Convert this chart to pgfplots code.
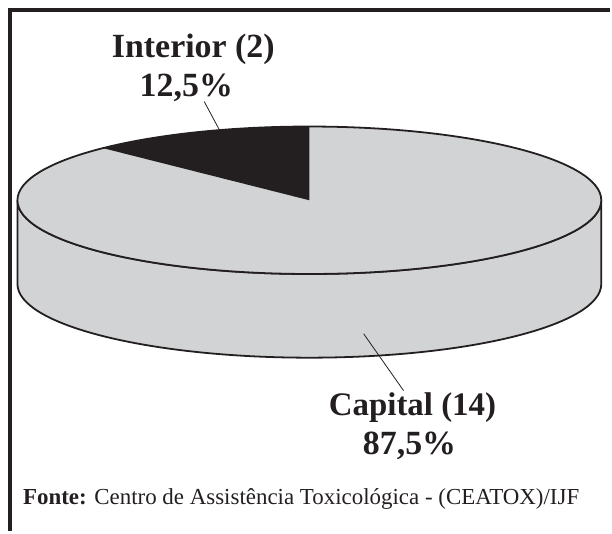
\documentclass[border=0pt]{standalone}
\usepackage{pgfplots}
\pgfplotsset{compat=1.18}
\usepackage{fontspec}
\setmainfont{Liberation Serif}
\definecolor{pieGray}{HTML}{D1D3D4}
\definecolor{ink}{HTML}{231F20}
\begin{document}
\begin{tikzpicture}
\def\vInterior{2}
\def\vCapital{14}
\pgfmathsetmacro{\total}{\vInterior+\vCapital}
\pgfmathsetmacro{\angI}{360*\vInterior/\total}
\begin{axis}[width=612pt,height=533pt,scale only axis,
  xmin=0,xmax=612,ymin=0,ymax=533,hide axis,clip=false]
\path (axis cs:0,0) rectangle (axis cs:612,533);
% frame
\draw[ink,line width=4.5pt] (axis cs:10,0) -- (axis cs:10,523) -- (axis cs:612,523);
% side of the pie
\filldraw[fill=pieGray,draw=ink,line width=1.8pt,line join=round]
  (axis cs:17.5,332) -- (axis cs:17.5,248)
  arc[start angle=180,end angle=360,x radius=293pt,y radius=74pt]
  -- (axis cs:603.5,332)
  arc[start angle=360,end angle=180,x radius=293pt,y radius=74pt] -- cycle;
% top of the pie
\fill[pieGray] (axis cs:310.5,332) ellipse[x radius=293pt,y radius=74pt];
% Interior slice
\fill[ink] (axis cs:310.5,332) -- (axis cs:310.5,406)
  arc[start angle=90,end angle={90+\angI},x radius=293pt,y radius=74pt] -- cycle;
\draw[ink,line width=1.8pt] (axis cs:310.5,332) ellipse[x radius=293pt,y radius=74pt];
% leader lines
\draw[ink,line width=0.8pt] (axis cs:205,431) -- (axis cs:220,403);
\draw[ink,line width=0.8pt] (axis cs:365,198) -- (axis cs:405,141);
% labels
\begin{scope}[every node/.style={text=ink,inner sep=0pt}]
\node[anchor=base,font=\bfseries\fontsize{34}{40}\selectfont] at (axis cs:194,475) {Interior (2)};
\node[anchor=base,font=\bfseries\fontsize{34}{40}\selectfont] at (axis cs:187,436) {12,5\%};
\node[anchor=base,font=\bfseries\fontsize{33}{39}\selectfont] at (axis cs:414,116) {Capital (14)};
\node[anchor=base,font=\bfseries\fontsize{34}{40}\selectfont] at (axis cs:411,77) {87,5\%};
\node[anchor=base west,font=\fontsize{23}{27}\selectfont] at (axis cs:23,27)
  {\textbf{Fonte:} Centro de Assistência Toxicológica - (CEATOX)/IJF};
\end{scope}
\end{axis}
\end{tikzpicture}
\end{document}
